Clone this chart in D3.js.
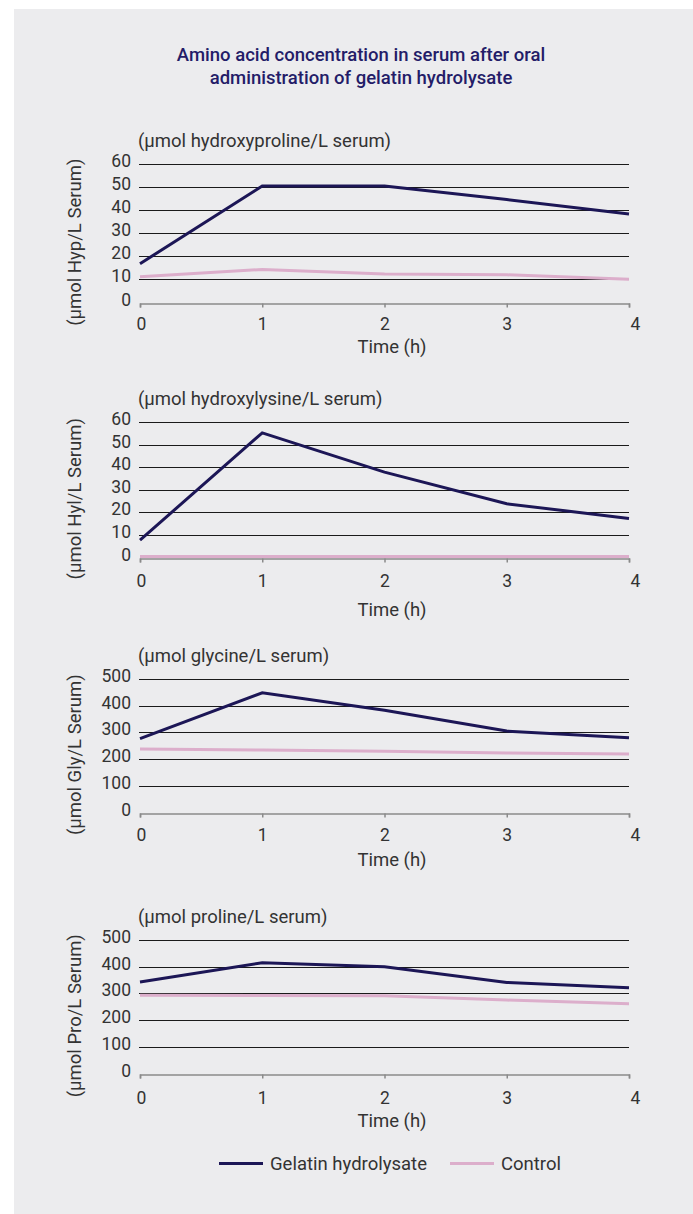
<!DOCTYPE html>
<html>
<head>
<meta charset="utf-8">
<script src="https://cdn.jsdelivr.net/npm/d3@7"></script>
<style>
  body { margin: 0; background: #fff; }
  svg { display: block; font-family: Roboto, "Noto Sans", sans-serif; }
</style>
</head>
<body>
<svg id="chart"></svg>
<script>
const hours = [0, 1, 2, 3, 4];
const seriesNames = ["Gelatin hydrolysate", "Control"];

const hypGelatin = [16.8, 50.5, 50.5, 44.6, 38.3];
const hypControl = [11.2, 14.3, 12.4, 12.0, 10.1];
const hylGelatin = [7.7, 55.2, 37.8, 23.8, 17.3];
const hylControl = [0.4, 0.4, 0.4, 0.4, 0.4];
const glyGelatin = [277, 448, 383, 305, 280];
const glyControl = [238, 234, 229, 223, 219];
const proGelatin = [343, 415, 400, 341, 321];
const proControl = [293, 292, 291, 275, 261];

const hylTicks = [0, 10, 20, 30, 40, 50, 60];
const molTicks = [0, 100, 200, 300, 400, 500];

const panels = [
  { sub: "(µmol hydroxyproline/L serum)", yTitle: "(µmol Hyp/L Serum)", ticks: hylTicks, g: hypGelatin, c: hypControl, top: 164, bottom: 302.5, lab: 26, time: 50 },
  { sub: "(µmol hydroxylysine/L serum)", yTitle: "(µmol Hyl/L Serum)", ticks: hylTicks, g: hylGelatin, c: hylControl, top: 422, bottom: 557.5, lab: 28, time: 58 },
  { sub: "(µmol glycine/L serum)", yTitle: "(µmol Gly/L Serum)", ticks: molTicks, g: glyGelatin, c: glyControl, top: 679, bottom: 812.5, lab: 27, time: 53 },
  { sub: "(µmol proline/L serum)", yTitle: "(µmol Pro/L Serum)", ticks: molTicks, g: proGelatin, c: proControl, top: 940, bottom: 1073.5, lab: 29, time: 53 }
];

const w = 693, h = 1214;
const colGel = "#1c1656", colCtl = "#dcaecb";
const txt = "#333";
const svg = d3.select("#chart").attr("width", w).attr("height", h);

svg.append("rect").attr("x", 14).attr("y", 9).attr("width", w - 14).attr("height", h - 9).attr("fill", "#ececee");

svg.append("text").attr("x", 361).attr("y", 61).attr("text-anchor", "middle")
  .attr("font-size", 18.5).attr("font-weight", 500).attr("fill", "#241c68")
  .text("Amino acid concentration in serum after oral");
svg.append("text").attr("x", 361).attr("y", 84).attr("text-anchor", "middle")
  .attr("font-size", 18.5).attr("font-weight", 500).attr("fill", "#241c68")
  .text("administration of gelatin hydrolysate");

const xScale = d3.scaleLinear().domain([0, 4]).range([140, 629]);

panels.forEach((p) => {
  const yScale = d3.scaleLinear().domain([0, d3.max(p.ticks)]).range([p.bottom, p.top]);
  const g = svg.append("g");

  // grid lines
  g.selectAll(".grid").data(p.ticks.slice(1)).enter().append("line")
    .attr("x1", 139).attr("x2", 629)
    .attr("y1", (d) => Math.round(yScale(d)) + 0.5).attr("y2", (d) => Math.round(yScale(d)) + 0.5)
    .attr("stroke", "#1a1a1a").attr("stroke-width", 1);

  // y labels
  g.selectAll(".ylab").data(p.ticks).enter().append("text")
    .attr("x", 131).attr("y", (d) => yScale(d) + 3)
    .attr("text-anchor", "end").attr("font-size", 17.5).attr("fill", txt)
    .text((d) => d);

  // x axis
  const xAxis = d3.axisBottom(xScale).tickValues(hours).tickSize(4).tickFormat(d3.format("d"));
  const ax = g.append("g").attr("transform", `translate(0, ${Math.round(p.bottom) + 0.5})`).call(xAxis);
  ax.select(".domain").attr("stroke", "#8a8a8a").attr("stroke-width", 1.5);
  ax.selectAll(".tick line").attr("stroke", "#8a8a8a").attr("stroke-width", 1.5);
  ax.selectAll(".tick text").attr("font-size", 17.5).attr("fill", txt)
    .attr("font-family", "Roboto, sans-serif").attr("dy", null).attr("y", p.lab)
    .attr("dx", (d) => (d === 4 ? 6 : d === 0 ? 1 : 0));

  g.append("text").attr("x", 392).attr("y", p.bottom + p.time).attr("text-anchor", "middle")
    .attr("font-size", 18.5).attr("fill", txt).text("Time (h)");

  g.append("text").attr("x", 138).attr("y", p.top - 17)
    .attr("font-size", 18.5).attr("fill", txt).text(p.sub);

  g.append("text")
    .attr("transform", `translate(81, ${(p.top + p.bottom) / 2 + 9}) rotate(-90)`)
    .attr("text-anchor", "middle").attr("font-size", 18.5).attr("fill", txt).text(p.yTitle);

  const line = d3.line().x((d, i) => xScale(hours[i])).y((d) => yScale(d));
  g.append("path").datum(p.c).attr("d", line).attr("fill", "none")
    .attr("stroke", colCtl).attr("stroke-width", 3);
  g.append("path").datum(p.g).attr("d", line).attr("fill", "none")
    .attr("stroke", colGel).attr("stroke-width", 3);
});

// legend
const legend = [
  { name: seriesNames[0], color: colGel, x: 219 },
  { name: seriesNames[1], color: colCtl, x: 450 }
];
legend.forEach((l) => {
  svg.append("line").attr("x1", l.x).attr("x2", l.x + 44).attr("y1", 1163.5).attr("y2", 1163.5)
    .attr("stroke", l.color).attr("stroke-width", 3);
  svg.append("text").attr("x", l.x + 51).attr("y", 1170).attr("font-size", 18.5).attr("fill", txt).text(l.name);
});
</script>
</body>
</html>
